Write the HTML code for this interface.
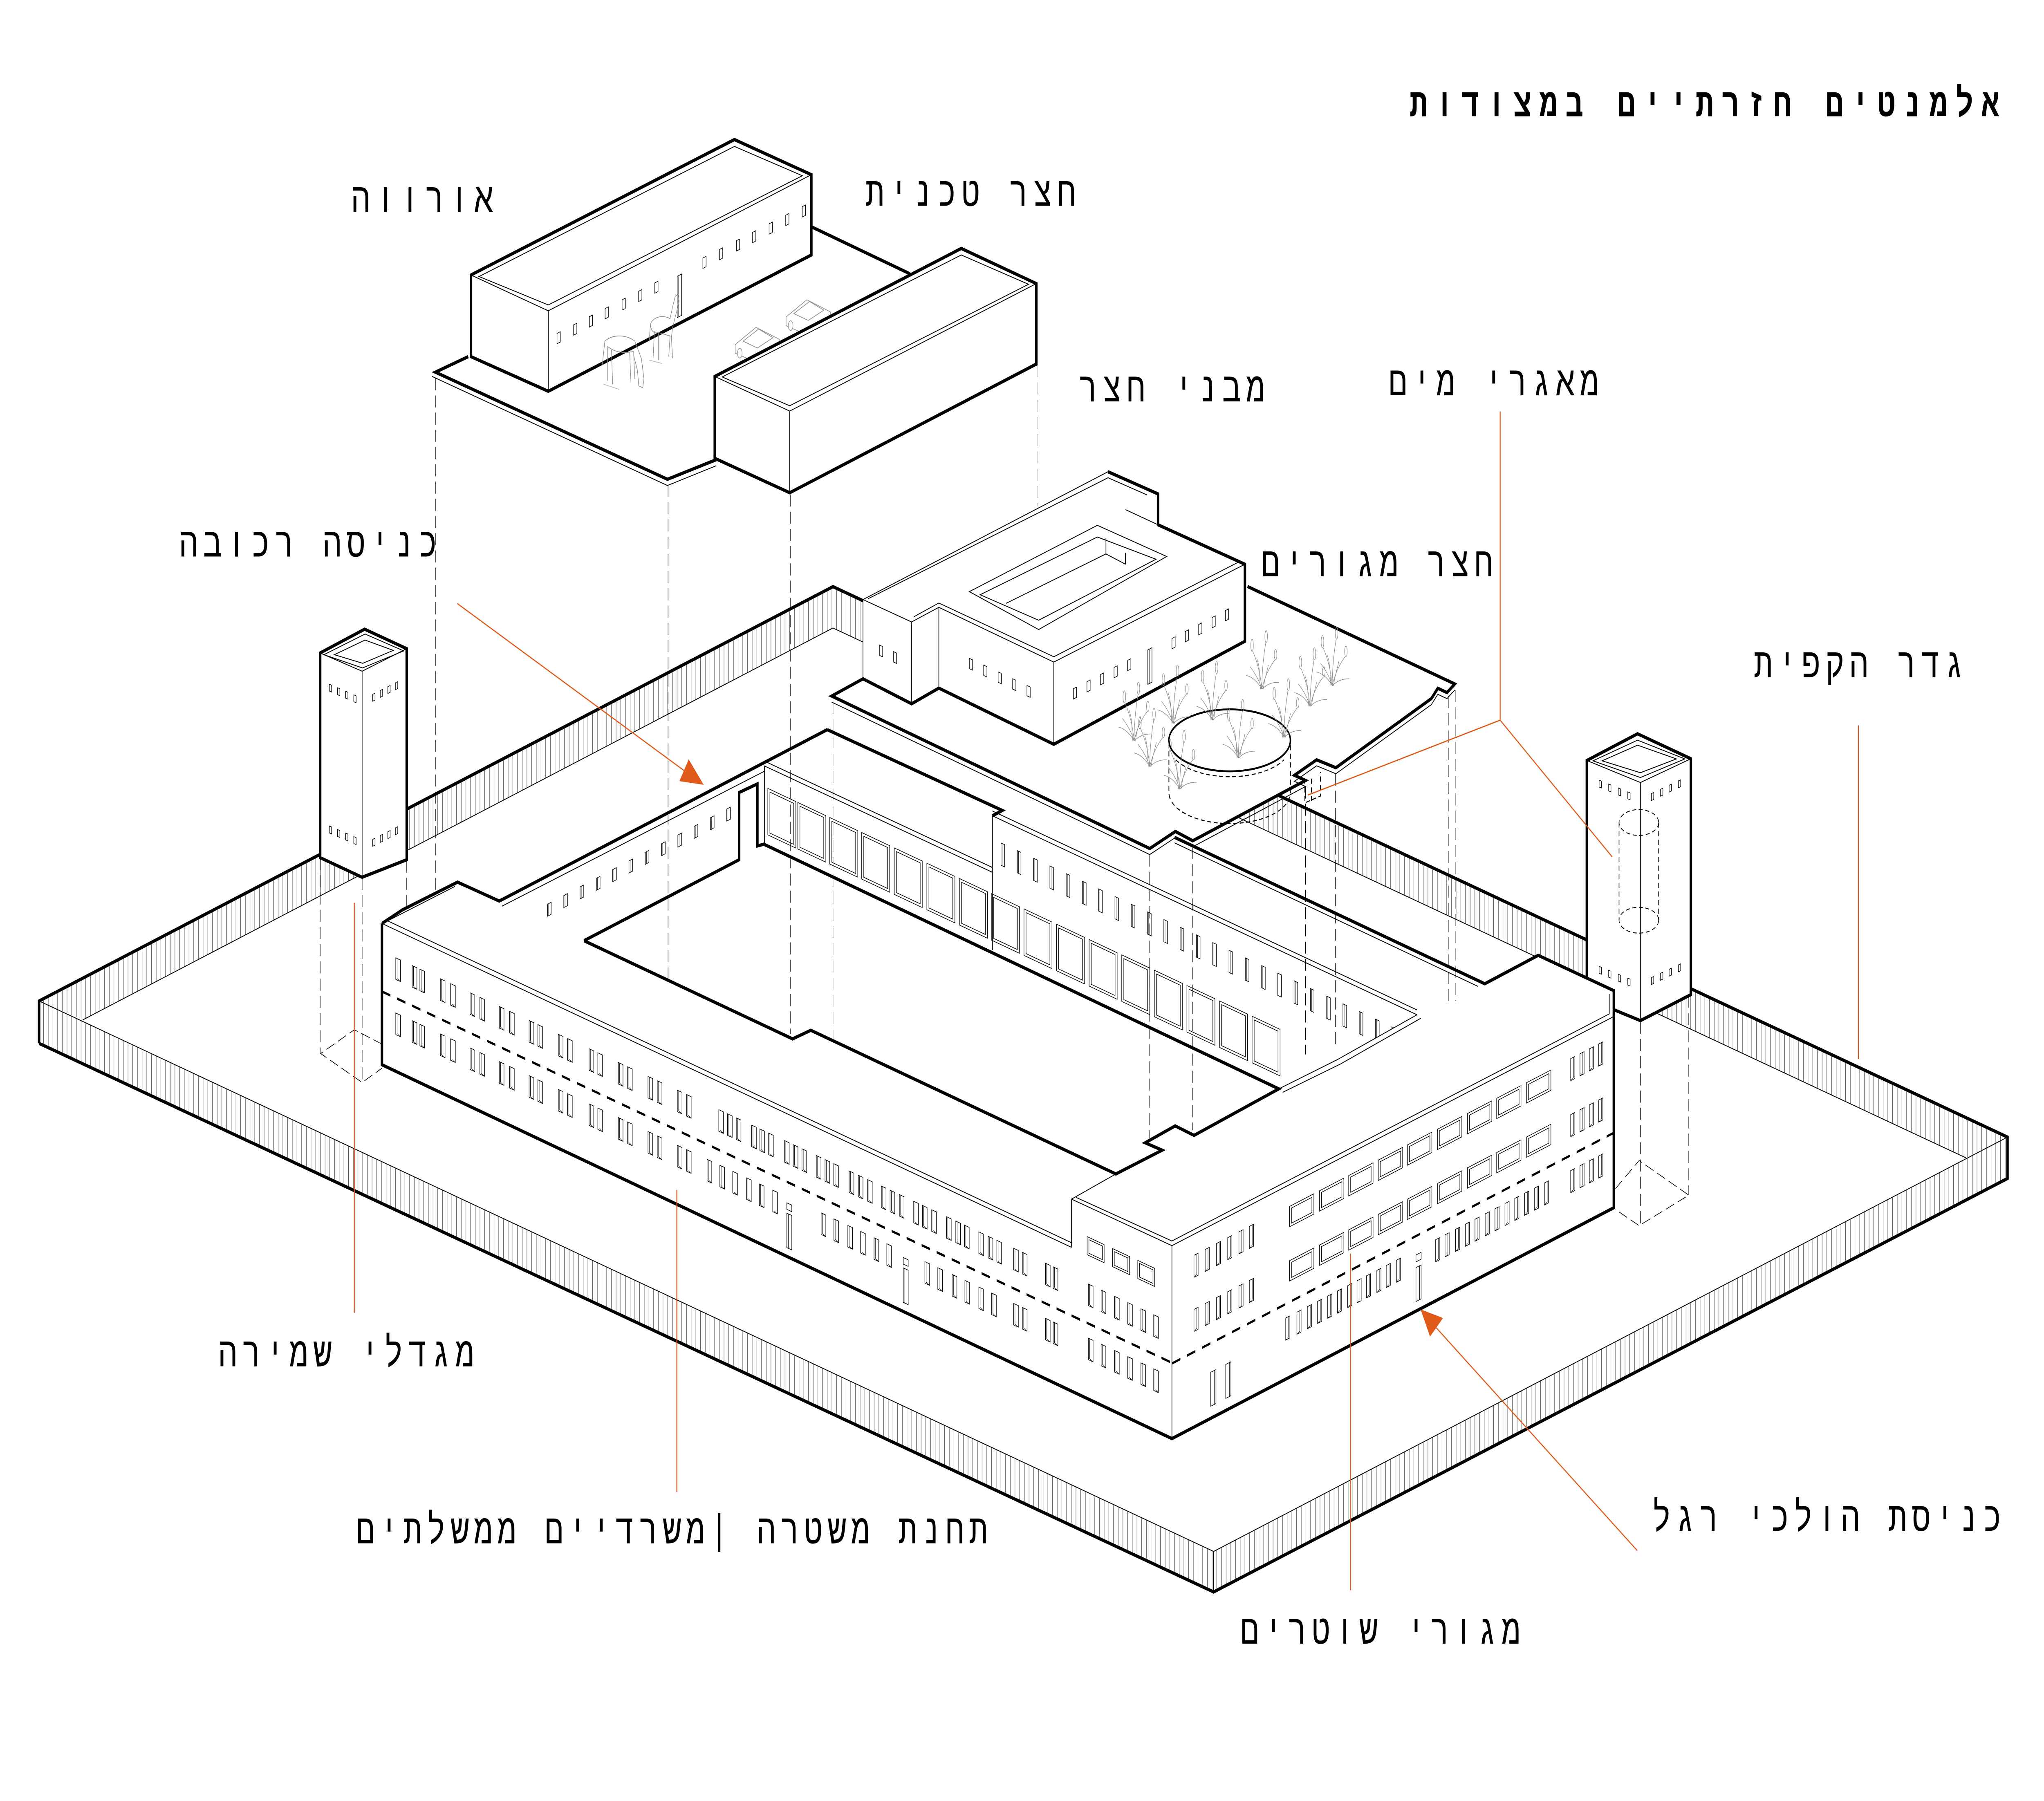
<!DOCTYPE html>
<html><head><meta charset="utf-8"><title>אלמנטים חזרתיים במצודות</title>
<style>
html,body{margin:0;padding:0;background:#fff;width:100%;height:100%;overflow:hidden}
svg{display:block;width:100vw;height:100vh}
.lb{font-family:"Liberation Mono","DejaVu Sans Mono",monospace;font-size:24px;fill:#000}
.tt{font-family:"DejaVu Sans Mono","Liberation Mono",monospace;font-size:23px;font-weight:bold;fill:#000}
.k{fill:none;stroke:#000;stroke-width:1.9;stroke-linejoin:miter}
.t{fill:none;stroke:#000;stroke-width:0.5}
.f{fill:#fff;stroke:none}
.d{fill:none;stroke:#000;stroke-width:0.4;stroke-dasharray:7 3}
.o{fill:none;stroke:#E05A1A;stroke-width:0.7}
.ws rect{fill:#fff;stroke:#000;stroke-width:0.4}
.ws line,.ws polyline{fill:none;stroke:#000;stroke-width:0.3}
</style></head><body>
<svg xmlns="http://www.w3.org/2000/svg" xmlns:xlink="http://www.w3.org/1999/xlink" viewBox="0 0 1568 1045.34" preserveAspectRatio="none">
<defs>
<pattern id="hatch" width="3.6" height="50" patternUnits="userSpaceOnUse"><line x1="1" y1="0" x2="1" y2="50" stroke="#222" stroke-width="0.28"/></pattern>
<g id="w" class="ws"><rect width="3.6" height="12.5"/><polyline points="1,0 1,11.6 3.6,12.5"/></g>
<g id="wr" class="ws"><rect width="3.2" height="12.8"/><polyline points="2.2,0 2.2,11.8 0,12.8"/></g>
<g id="tl" class="ws"><rect width="4" height="19.7"/><line x1="2.8" y1="0" x2="2.8" y2="19.7"/></g>
<g id="bx" class="ws"><rect width="18.7" height="11.8"/><rect x="1.5" y="1.5" width="15.7" height="8.8" style="fill:none"/></g>
<g id="bx2" class="ws"><rect width="13" height="10.5"/><rect x="1.3" y="1.3" width="10.4" height="7.9" style="fill:none"/></g>
<g id="gw" class="ws"><rect width="21.5" height="27"/><rect x="1.6" y="1.6" width="18.3" height="23.8" style="fill:none"/></g>
<g id="sw" class="ws"><rect width="2.8" height="12.9"/><line x1="0.9" y1="0" x2="0.9" y2="12.9"/></g>
<g id="lw" class="ws"><rect width="2.8" height="7"/><line x1="0.9" y1="0" x2="0.9" y2="7"/></g>
<g id="tw" class="ws"><rect width="1.8" height="4"/></g>
<g id="stw" class="ws"><rect width="2.5" height="6"/></g>
<g id="dr" class="ws"><rect width="3.8" height="20"/><line x1="1.2" y1="0" x2="1.2" y2="20"/></g>
<g id="reed" fill="none" stroke="#8c8c8c" stroke-width="0.35">
<path d="M0 0 C-1 -8 -3 -15 -7 -22"/><path d="M0 0 C0 -9 1 -18 3 -27"/><path d="M0 0 C2 -7 6 -13 10 -17"/>
<path d="M0 0 C-3 -4 -7 -7 -12 -8"/><path d="M0 0 C4 -3 8 -4 13 -4"/><path d="M-1 0 C-2 -6 -1 -12 -4 -18"/>
<path d="M1 0 C2 -6 4 -10 5 -14"/><path d="M0 0 C-2 -5 -5 -9 -9 -13"/>
<ellipse cx="-7.5" cy="-25.5" rx="1" ry="3.5"/><ellipse cx="3.3" cy="-30.5" rx="1" ry="3.5"/><ellipse cx="10.5" cy="-20" rx="1" ry="3"/>
</g>
</defs>

<!-- FENCE -->
<polygon points="30,581 639,340.5 639,364.5 63.4,592" fill="url(#hatch)"/>
<polygon points="639,340.5 1540,660 1508,672 639,364.5" fill="url(#hatch)"/>
<polygon points="30,581 931,900.5 931,924 30,605.6" fill="url(#hatch)"/>
<polygon points="931,900.5 1540,660 1540,684 931,924" fill="url(#hatch)"/>
<polyline class="t" points="30,581 931,900.5 1540,660"/>
<polyline class="t" points="63.4,592 639,364.5 1508,672"/>
<line class="t" x1="931" y1="900.5" x2="931" y2="924"/>
<polyline class="k" points="30,605.6 30,581 639,340.5 1540,660 1540,684 931,924 30,605.6"/>

<!-- LEFT TOWER -->
<polygon class="f" points="245.6,379 279.7,365.2 312,376.5 312,499 277.8,509.2 245.6,497.8"/>
<polygon class="t" points="248.5,380 280.1,368 309.7,377.8 278.1,387.7"/>
<polygon class="t" points="256.5,380 280,371.5 301.7,377.5 278.3,385"/>
<polyline class="t" points="245.6,379 277.8,389.6 312,376.5"/>
<line class="t" x1="277.8" y1="389.6" x2="277.8" y2="509.2"/>
<polygon class="k" points="245.6,379 279.7,365.2 312,376.5 312,499 277.8,509.2 245.6,497.8"/>
<g transform="matrix(1 0.329 0 1 0 0)">
<use href="#tw" x="252.6" y="314"/><use href="#tw" x="258.9" y="314"/><use href="#tw" x="265.1" y="314"/><use href="#tw" x="271.4" y="314"/>
<use href="#tw" x="252.6" y="396.3"/><use href="#tw" x="258.9" y="396.3"/><use href="#tw" x="265.1" y="396.3"/><use href="#tw" x="271.4" y="396.3"/>
</g>
<g transform="matrix(1 -0.383 0 1 0 0)">
<use href="#tw" x="285.9" y="512.5"/><use href="#tw" x="291.7" y="512.5"/><use href="#tw" x="297.5" y="512.5"/><use href="#tw" x="303.3" y="512.5"/>
<use href="#tw" x="285.9" y="596.7"/><use href="#tw" x="291.7" y="596.7"/><use href="#tw" x="297.5" y="596.7"/><use href="#tw" x="303.3" y="596.7"/>
</g>

<!-- RIGHT TOWER -->
<polygon class="f" points="1217.3,441.4 1256.2,425.9 1297.1,440.4 1297.1,577.3 1258.4,592.4 1217.3,579.6"/>
<polygon class="t" points="1222,441.6 1256.2,429.6 1292.5,440.5 1258.4,451.3"/>
<polygon class="t" points="1229,441.6 1256.2,432.5 1286,440.5 1258.4,448.5"/>
<polyline class="t" points="1217.3,441.4 1258.4,454.2 1297.1,440.4"/>
<line class="t" x1="1258.4" y1="454.2" x2="1258.4" y2="592.4"/>
<polygon class="k" points="1217.3,441.4 1256.2,425.9 1297.1,440.4 1297.1,577.3 1258.4,592.4 1217.3,579.6"/>
<g transform="matrix(1 0.311 0 1 0 0)">
<use href="#tw" x="1226.7" y="71.3"/><use href="#tw" x="1234" y="71.3"/><use href="#tw" x="1241.4" y="71.3"/><use href="#tw" x="1248.7" y="71.3"/>
<use href="#tw" x="1226.7" y="179.4"/><use href="#tw" x="1234" y="179.4"/><use href="#tw" x="1241.4" y="179.4"/><use href="#tw" x="1248.7" y="179.4"/>
</g>
<g transform="matrix(1 -0.357 0 1 0 0)">
<use href="#tw" x="1266.8" y="912.9"/><use href="#tw" x="1273.8" y="912.9"/><use href="#tw" x="1280.4" y="912.9"/><use href="#tw" x="1287.5" y="912.9"/>
<use href="#tw" x="1266.8" y="1019.7"/><use href="#tw" x="1273.8" y="1019.7"/><use href="#tw" x="1280.4" y="1019.7"/><use href="#tw" x="1287.5" y="1019.7"/>
</g>
<g fill="none" stroke="#000" stroke-width="0.5" stroke-dasharray="3 2">
<ellipse cx="1257.2" cy="477.4" rx="15.2" ry="7.5"/>
<ellipse cx="1257.2" cy="534.1" rx="15.2" ry="7.5"/>
<line x1="1242" y1="477.4" x2="1242" y2="534.1"/>
<line x1="1272.4" y1="477.4" x2="1272.4" y2="534.1"/>
</g>

<!-- MAIN BUILDING: back parts -->
<polygon class="f" points="761.3,473.5 810.4,453.8 1139,571 1087,589"/>
<polygon class="f" points="761.3,473.5 1087,589 981,632 761.3,551.4"/>
<polygon class="f" points="586.5,444.6 634.6,423.5 768.9,470.4 761.3,473.5 761.3,506.3"/>
<polygon class="f" points="586.5,444.6 761.3,506.3 761.3,551.4 586,490"/>
<polygon class="f" points="383,523 586.5,444.6 586,490 581,491 581,455 567,460 567,499 448,546"/>
<polygon class="f" points="448,546 586,490 981,632 856,681.4 622,598 608,603"/>
<g transform="matrix(1 0.356 0 1 0 0)">
<use href="#gw" x="589" y="247.9"/><use href="#gw" x="612" y="247.9"/><use href="#gw" x="636.5" y="247.9"/><use href="#gw" x="661" y="247.9"/>
<use href="#gw" x="686" y="247.9"/><use href="#gw" x="711" y="247.9"/><use href="#gw" x="736" y="247.9"/><use href="#gw" x="760.5" y="247.9"/>
<use href="#gw" x="785.5" y="247.9"/><use href="#gw" x="810.5" y="247.9"/><use href="#gw" x="835.5" y="247.9"/><use href="#gw" x="860.5" y="247.9"/>
<use href="#gw" x="885.5" y="247.9"/><use href="#gw" x="910.5" y="247.9"/><use href="#gw" x="935.5" y="247.9"/><use href="#gw" x="960.5" y="247.9"/>
<use href="#sw" x="767.9" y="215.9"/><use href="#sw" x="780.4" y="215.9"/><use href="#sw" x="792.9" y="215.9"/><use href="#sw" x="805.4" y="215.9"/>
<use href="#sw" x="817.9" y="215.9"/><use href="#sw" x="830.4" y="215.9"/><use href="#sw" x="842.8" y="215.9"/><use href="#sw" x="855.3" y="215.9"/>
<use href="#sw" x="867.8" y="215.9"/><use href="#sw" x="880.3" y="215.9"/><use href="#sw" x="892.8" y="215.9"/><use href="#sw" x="905.3" y="215.9"/>
<use href="#sw" x="917.8" y="215.9"/><use href="#sw" x="930.3" y="215.9"/><use href="#sw" x="942.8" y="215.9"/><use href="#sw" x="955.3" y="215.9"/>
<use href="#sw" x="967.8" y="215.9"/><use href="#sw" x="980.2" y="215.9"/><use href="#sw" x="992.7" y="215.9"/><use href="#sw" x="1005.2" y="215.9"/>
<use href="#sw" x="1017.7" y="215.9"/><use href="#sw" x="1030.2" y="215.9"/><use href="#sw" x="1042.7" y="215.9"/><use href="#sw" x="1055.2" y="215.9"/>
<use href="#sw" x="1067.7" y="215.9"/>
</g>
<g transform="matrix(1 -0.4016 0 1 0 0)">
<use href="#lw" x="420" y="693.5"/><use href="#lw" x="432.5" y="693.5"/><use href="#lw" x="445" y="693.5"/><use href="#lw" x="457.5" y="693.5"/>
<use href="#lw" x="470" y="693.5"/><use href="#lw" x="482.5" y="693.5"/><use href="#lw" x="495" y="693.5"/><use href="#lw" x="507.5" y="693.5"/>
<use href="#lw" x="520" y="693.5"/><use href="#lw" x="532.5" y="693.5"/><use href="#lw" x="545" y="693.5"/><use href="#lw" x="557.5" y="693.5"/>
</g>

<!-- MAIN BUILDING: front parts -->
<polygon class="f" points="293,536 309,528 351,512 383,523 448,546 608,603 622,598 856,681.4 822,696 822,724"/>
<polygon class="f" points="293,536 822,724 822,696 899,723 899,835 293,618"/>
<polygon class="f" points="822,696 899,723 1238,590 1238,575 1180,554.5 1139,571 1087,589 1026,615 981,632 916,659 901.5,653.5 878.5,663.3 891.5,667.6 856,681.4"/>
<polygon class="f" points="899,723 1238,590 1238,701 899,835"/>

<!-- lines -->
<polyline class="t" points="586.5,490 586.5,444.6 761.3,506.3"/>
<line class="t" x1="586.5" y1="441.8" x2="761.3" y2="503.5"/>
<line class="t" x1="761.3" y1="473.5" x2="761.3" y2="551.4"/>
<line class="t" x1="761.3" y1="473.5" x2="1087" y2="589"/>
<line class="t" x1="761.3" y1="470.7" x2="1087" y2="586.2"/>
<line class="t" x1="901" y1="489.2" x2="1134" y2="572.6"/>
<polyline class="t" points="1087,589 1026,615 981,632"/>
<polyline class="t" points="1090,591 1028.5,617.5 984,634"/>
<line class="t" x1="385" y1="526" x2="586.5" y2="447.6"/>
<polyline class="t" points="296,534 822,721.3"/>
<polyline class="t" points="296,535 349,514.5"/>
<polyline class="t" points="293,536 822,724"/>
<polyline class="t" points="822,724 822,696 899,723 1238,590"/>
<polyline class="t" points="822,696 856,681.4"/>
<polyline class="t" points="825.5,695 899,720.3 1234.5,588.5 1234.5,577"/>
<line class="t" x1="899" y1="723" x2="899" y2="835"/>
<polyline class="k" points="634.6,423.5 768.9,470.4 761.3,473.5"/>
<polyline class="k" points="901,486 1139,571 1180,554.5 1238,575 1238,590"/>
<polyline class="k" points="293,536 309,528 351,512 383,523 634.6,423.5"/>
<polyline class="k" points="448,546 567,499 567,460 581,455 581,491 586,490 981,632 916,659 901.5,653.5 878.5,663.3 891.5,667.6 856,681.4 622,598 608,603 448,546"/>
<polyline class="k" points="293,536 293,618 899,835 1238,701 1238,590"/>

<!-- front facade windows -->
<g transform="matrix(1 0.3556 0 1 0 0)">
<g id="r1">
<use href="#w" x="303.6" y="448"/><use href="#w" x="316.2" y="448"/><use href="#w" x="322.1" y="448"/><use href="#w" x="337.8" y="448"/><use href="#w" x="345.7" y="448"/>
<use href="#w" x="360.6" y="448"/><use href="#w" x="368.1" y="448"/><use href="#w" x="383" y="448"/><use href="#w" x="390.9" y="448"/><use href="#w" x="405.9" y="448"/>
<use href="#w" x="412.6" y="448"/><use href="#w" x="428.3" y="448"/><use href="#w" x="435.4" y="448"/><use href="#w" x="451.9" y="448"/><use href="#w" x="458.6" y="448"/>
<use href="#w" x="474.3" y="448"/><use href="#w" x="481.4" y="448"/><use href="#w" x="497.1" y="448"/><use href="#w" x="504.2" y="448"/><use href="#w" x="519.6" y="448"/>
<use href="#w" x="526.6" y="448"/>
</g>
<use href="#r1" y="32"/>
<use href="#w" x="551.4" y="448"/><use href="#w" x="558.1" y="448"/><use href="#w" x="564.8" y="448"/><use href="#w" x="576.6" y="448"/><use href="#w" x="582.9" y="448"/>
<use href="#w" x="589.6" y="448"/><use href="#w" x="601.8" y="448"/><use href="#w" x="608.5" y="448"/><use href="#w" x="615.2" y="448"/><use href="#w" x="626.2" y="448"/>
<use href="#w" x="632.9" y="448"/><use href="#w" x="639.6" y="448"/><use href="#w" x="651.4" y="448"/><use href="#w" x="658.4" y="448"/><use href="#w" x="665.5" y="448"/>
<use href="#w" x="676.1" y="448"/><use href="#w" x="682.8" y="448"/><use href="#w" x="689.9" y="448"/><use href="#w" x="700.9" y="448"/><use href="#w" x="707.6" y="448"/>
<use href="#w" x="714.7" y="448"/><use href="#w" x="726.1" y="448"/><use href="#w" x="733.2" y="448"/><use href="#w" x="739.9" y="448"/><use href="#w" x="750.9" y="448"/>
<use href="#w" x="758" y="448"/><use href="#w" x="764.7" y="448"/><use href="#w" x="777.6" y="448"/><use href="#w" x="784.3" y="448"/><use href="#w" x="802" y="448"/>
<use href="#w" x="807.9" y="448"/>
<use href="#w" x="542.4" y="480"/><use href="#w" x="552.2" y="480"/><use href="#w" x="562.1" y="480"/><use href="#w" x="572.7" y="480"/><use href="#w" x="582.5" y="480"/>
<use href="#w" x="592.8" y="480"/><use href="#w" x="629.9" y="480"/><use href="#w" x="639.7" y="480"/><use href="#w" x="650.4" y="480"/><use href="#w" x="660.2" y="480"/>
<use href="#w" x="670.5" y="480"/><use href="#w" x="680.3" y="480"/><use href="#w" x="709.5" y="480"/><use href="#w" x="719.4" y="480"/><use href="#w" x="730.4" y="480"/>
<use href="#w" x="740.2" y="480"/><use href="#w" x="750.9" y="480"/><use href="#w" x="760.7" y="480"/><use href="#w" x="777.6" y="480"/><use href="#w" x="784.3" y="480"/>
<use href="#w" x="802" y="480"/><use href="#w" x="807.9" y="480"/>
<use href="#dr" x="603.6" y="489.5"/><use href="#dr" x="692.9" y="489.5"/>
<g class="ws"><rect x="603.6" y="483.5" width="3.8" height="3.8"/><rect x="692.9" y="483.5" width="3.8" height="3.8"/></g>
<use href="#bx2" x="834" y="421.2"/><use href="#bx2" x="853.5" y="421.2"/><use href="#bx2" x="872.8" y="421.2"/>
<use href="#w" x="834.9" y="448.4"/><use href="#w" x="844.7" y="448.4"/><use href="#w" x="855" y="448.4"/><use href="#w" x="865.1" y="448.4"/><use href="#w" x="875.2" y="448.4"/><use href="#w" x="885" y="448.4"/>
<use href="#w" x="834.9" y="479.8"/><use href="#w" x="844.7" y="479.8"/><use href="#w" x="855" y="479.8"/><use href="#w" x="865.1" y="479.8"/><use href="#w" x="875.2" y="479.8"/><use href="#w" x="885" y="479.8"/>
<line x1="293" y1="471.3" x2="899" y2="471.3" stroke="#000" stroke-width="1.4" stroke-dasharray="6.5 5"/>
</g>

<!-- right face windows -->
<g transform="matrix(1 -0.395 0 1 0 0)">
<use href="#wr" x="915.9" y="1090.4"/><use href="#wr" x="924.5" y="1090.4"/><use href="#wr" x="933.1" y="1090.4"/><use href="#wr" x="941.8" y="1090.4"/><use href="#wr" x="950.4" y="1090.4"/><use href="#wr" x="958.4" y="1090.4"/>
<use href="#wr" x="915.9" y="1121.8"/><use href="#wr" x="924.5" y="1121.8"/><use href="#wr" x="933.1" y="1121.8"/><use href="#wr" x="941.8" y="1121.8"/><use href="#wr" x="950.4" y="1121.8"/><use href="#wr" x="958.4" y="1121.8"/>
<use href="#tl" x="928.8" y="1163.4"/><use href="#tl" x="940.3" y="1163.4"/>
<g id="bxrow">
<use href="#bx" x="989.2" y="1091"/><use href="#bx" x="1012.2" y="1091"/><use href="#bx" x="1034.6" y="1091"/><use href="#bx" x="1057.3" y="1091"/><use href="#bx" x="1079.7" y="1091"/>
<use href="#bx" x="1102.7" y="1091"/><use href="#bx" x="1125.7" y="1091"/><use href="#bx" x="1148.1" y="1091"/><use href="#bx" x="1171" y="1091"/>
</g>
<use href="#bxrow" y="31.5"/>
<use href="#wr" x="986.3" y="1154.6"/><use href="#wr" x="994.9" y="1154.6"/><use href="#wr" x="1002.9" y="1154.6"/><use href="#wr" x="1010.7" y="1154.6"/><use href="#wr" x="1018.5" y="1154.6"/><use href="#wr" x="1026" y="1154.6"/>
<use href="#wr" x="1033.8" y="1154.6"/><use href="#wr" x="1041" y="1154.6"/><use href="#wr" x="1048.2" y="1154.6"/><use href="#wr" x="1056.2" y="1154.6"/><use href="#wr" x="1063.4" y="1154.6"/><use href="#wr" x="1071.2" y="1154.6"/>
<use href="#wr" x="1101.3" y="1154.6"/><use href="#wr" x="1108.5" y="1154.6"/><use href="#wr" x="1116.6" y="1154.6"/><use href="#wr" x="1124.1" y="1154.6"/><use href="#wr" x="1131.5" y="1154.6"/><use href="#wr" x="1139.3" y="1154.6"/>
<use href="#wr" x="1146.8" y="1154.6"/><use href="#wr" x="1154.5" y="1154.6"/><use href="#wr" x="1162" y="1154.6"/><use href="#wr" x="1169.5" y="1154.6"/><use href="#wr" x="1177" y="1154.6"/><use href="#wr" x="1184.7" y="1154.6"/>
<use href="#tl" x="1086.2" y="1164.8"/>
<g class="ws"><rect x="1086.2" y="1157.5" width="4" height="4"/></g>
<use href="#wr" x="1204.9" y="1090.4"/><use href="#wr" x="1212" y="1090.4"/><use href="#wr" x="1219.2" y="1090.4"/><use href="#wr" x="1226.4" y="1090.4"/>
<use href="#wr" x="1204.9" y="1122.9"/><use href="#wr" x="1212" y="1122.9"/><use href="#wr" x="1219.2" y="1122.9"/><use href="#wr" x="1226.4" y="1122.9"/>
<use href="#wr" x="1204.9" y="1155.4"/><use href="#wr" x="1212" y="1155.4"/><use href="#wr" x="1219.2" y="1155.4"/><use href="#wr" x="1226.4" y="1155.4"/>
<line x1="899" y1="1146.5" x2="1238" y2="1146.5" stroke="#000" stroke-width="1.4" stroke-dasharray="6.5 5"/>
</g>

<!-- RESIDENTIAL YARD (floating) -->
<polygon class="f" points="638,404 882,492.5 901.7,482.6 915,488 1001.5,453 993,450 1010,441 1024.8,445.6 1098,405.5 1103,399.5 1110,402 1116,397 957,340.4 900,330 700,370"/>
<polyline class="t" points="638,407.5 882,496 901.7,486.1 915,491.5 1001.5,456.5 993,453.5 1010,444.5 1024.8,449.1 1098,409 1103,403 1110,405.5 1116,400.5"/>
<polyline class="k" points="662,394 638,404 882,492.5 901.7,482.6 915,488 1001.5,453 993,450 1010,441 1024.8,445.6 1098,405.5 1103,399.5 1110,402 1116,397 957,340.4"/>
<!-- residential building -->
<polygon class="f" points="662,348 699.3,361 699.3,408.5 662,394"/>
<polygon class="f" points="699.3,361 720.2,352.5 720.2,399.4 699.3,408.5"/>
<polygon class="f" points="720.2,352.5 808.4,384.3 808.4,432 720.2,399.4"/>
<polygon class="f" points="808.4,384.3 955,327.5 955,372.2 808.4,432"/>
<polygon class="f" points="662,348 850,273.8 888.4,286.7 863.4,295.8 955,327.5 808.4,384.3 720.2,352.5 699.3,361"/>
<polygon class="f" points="863.4,295.8 888.4,286.7 888.4,304.6"/>
<polyline class="t" points="662,394 662,348 850,273.8"/>
<polyline class="t" points="666,347.5 850,277.3 880,287.3"/>
<polyline class="t" points="662,348 699.3,361 720.2,352.5 808.4,384.3 955,327.5"/>
<polyline class="t" points="701,358 720.2,350 808.4,381.2 950,326.3"/>
<line class="t" x1="699.3" y1="361" x2="699.3" y2="408.5"/>
<line class="t" x1="720.2" y1="352.5" x2="720.2" y2="399.4"/>
<line class="t" x1="808.4" y1="384.3" x2="808.4" y2="432"/>
<line class="t" x1="863.4" y1="295.8" x2="888.4" y2="304.6"/>
<polygon class="t" points="743.6,343.4 841.8,304.9 895,323 796.8,365.4"/>
<polygon class="t" points="751.9,345.2 841.8,311.7 886.8,324.6 796.8,360"/>
<polyline class="t" points="771.8,350.2 848.4,321.5 863.4,327.5"/>
<line class="t" x1="848.4" y1="312.4" x2="848.4" y2="321.5"/>
<line class="t" x1="863.4" y1="320.8" x2="863.4" y2="327.5"/>
<polyline class="k" points="850,273.8 888.4,286.7 888.4,304.6 955,327.5 955,372.2 808.4,432 720.2,399.4 699.3,408.5 662,394"/>
<g transform="matrix(1 0.356 0 1 0 0)">
<use href="#stw" x="743.6" y="117.4"/><use href="#stw" x="754.6" y="117.4"/><use href="#stw" x="765.7" y="117.4"/><use href="#stw" x="776.8" y="117.4"/><use href="#stw" x="787.8" y="117.4"/>
<use href="#stw" x="674.6" y="134.2"/><use href="#stw" x="685.3" y="134.2"/>
</g>
<g transform="matrix(1 -0.395 0 1 0 0)">
<use href="#stw" x="823.4" y="725"/><use href="#stw" x="833.8" y="725"/><use href="#stw" x="844.2" y="725"/><use href="#stw" x="854.6" y="725"/><use href="#stw" x="865" y="725"/>
<use href="#stw" x="899" y="725.7"/><use href="#stw" x="909.3" y="725.7"/><use href="#stw" x="919.5" y="725.7"/><use href="#stw" x="929.8" y="725.7"/><use href="#stw" x="940" y="725.7"/>
<g class="ws"><rect x="880.5" y="725" width="3.2" height="20"/><line x1="881.6" y1="725" x2="881.6" y2="745"/></g>
</g>
<!-- cistern -->
<ellipse cx="943.3" cy="429.7" rx="46.6" ry="18" fill="#fff" stroke="#000" stroke-width="1.1"/>
<g fill="none" stroke="#000" stroke-width="0.6" stroke-dasharray="3 2">
<path d="M896.7 431 L896.7 460 A46.6 18 0 0 0 989.9 460 L989.9 431"/>
<path d="M902 441 A46.6 18 0 0 0 985 441"/>
<path d="M1001 452 L1001 466 L1013 462 L1013 448 M1006 452 L1006 467"/>
</g>
<use href="#reed" x="882" y="445"/><use href="#reed" x="900" y="420"/><use href="#reed" x="930" y="418"/>
<use href="#reed" x="968" y="400"/><use href="#reed" x="1005" y="410"/><use href="#reed" x="1022" y="398"/>
<use href="#reed" x="950" y="440"/><use href="#reed" x="905" y="458"/><use href="#reed" x="985" y="428"/><use href="#reed" x="870" y="430"/>

<!-- UPPER GROUP: stable + technical yard -->
<polygon class="f" points="334,216 512,278.2 549.8,266.7 760,182 698,158.9 622.4,131.6 585,125 400,190"/>
<polyline class="t" points="331.5,218.5 512,281.8 549.5,270.3"/>
<polyline class="k" points="359.2,207 334,216 512,278.2 549.8,266.7"/>
<polyline class="k" points="622.4,131.6 698,158.9"/>
<!-- stable -->
<polygon class="f" points="361.3,159.6 563.4,81 622.4,101.4 622.4,148 420.6,227.1 361.3,207"/>
<polygon class="t" points="367.5,160.5 563.4,85 615.5,102 420.6,177"/>
<polyline class="t" points="361.3,159.6 420.6,180.4 622.4,101.4"/>
<line class="t" x1="420.6" y1="180.4" x2="420.6" y2="227.1"/>
<polygon class="k" points="361.3,159.6 563.4,81 622.4,101.4 622.4,148 420.6,227.1 361.3,207"/>
<g transform="matrix(1 -0.391 0 1 0 0)">
<use href="#stw" x="427.3" y="360.6"/><use href="#stw" x="440" y="360.6"/><use href="#stw" x="452.1" y="360.6"/><use href="#stw" x="464.2" y="360.6"/>
<use href="#stw" x="477.2" y="360.6"/><use href="#stw" x="489.9" y="360.6"/><use href="#stw" x="502.3" y="360.6"/>
<use href="#stw" x="539.2" y="360.6"/><use href="#stw" x="551.9" y="360.6"/><use href="#stw" x="564.9" y="360.6"/><use href="#stw" x="577.3" y="360.6"/>
<use href="#stw" x="590" y="360.6"/><use href="#stw" x="602.7" y="360.6"/><use href="#stw" x="615.4" y="360.6"/>
<g class="ws"><rect x="519.5" y="363.5" width="3.4" height="24"/><line x1="520.6" y1="363.5" x2="520.6" y2="387.5"/></g>
</g>
<!-- horses -->
<g fill="none" stroke="#8c8c8c" stroke-width="0.4">
<path d="M499 188 C502 183 510 183 514 185 L516 178 L518 172 L520 171 L521 175 L519 181 L516 190 L515 196 L516 208 M514 195 L513 207 M502 192 L501 208 M505 193 L505 209 M499 188 L498 198 M499 188 C499 192 502 194 505 193 L514 195"/>
<path d="M464 198 C470 194 480 194 487 198 L492 208 L494 220 L493 225 L490 224 L489 215 L486 206 M466 201 L466 221 M469 203 L470 223 M483 204 L484 222 M486 204 L487 220 M464 198 L462 212 M466 201 C472 205 480 205 486 204"/>
<path d="M463 223 L475 226 M498 209 L508 211" stroke="#bbb"/>
</g>
<!-- cars -->
<g fill="#fff" stroke="#8c8c8c" stroke-width="0.4">
<path d="M564 200 L580 190 L598 197 L598 203 L582 211 L564 205 Z"/><path d="M570 198 L582 191 L593 196 L581 202 Z" fill="none"/>
<ellipse cx="567.5" cy="205" rx="1.8" ry="2.8"/><ellipse cx="585" cy="208" rx="1.8" ry="2.8"/>
<path d="M603 184 L619 174 L637 181 L637 187 L621 195 L603 189 Z"/><path d="M609 182 L621 175 L632 180 L620 186 Z" fill="none"/>
<ellipse cx="606.5" cy="189" rx="1.8" ry="2.8"/><ellipse cx="624" cy="192" rx="1.8" ry="2.8"/>
</g>
<!-- technical building -->
<polygon class="f" points="548.3,218.5 737.4,144.2 795,164.6 795,211.3 605.8,286 548.3,266"/>
<polygon class="t" points="554,218.8 737.4,148 789,165 605.8,235.5"/>
<polyline class="t" points="548.3,218.5 605.8,238.6 795,164.6"/>
<line class="t" x1="605.8" y1="238.6" x2="605.8" y2="286"/>
<polygon class="k" points="548.3,218.5 737.4,144.2 795,164.6 795,211.3 605.8,286 548.3,266"/>

<!-- DASHED PROJECTION LINES -->
<g class="d">
<line x1="334" y1="219.5" x2="334" y2="518"/>
<line x1="512.5" y1="281.5" x2="512.5" y2="568"/>
<line x1="606.5" y1="287" x2="606.5" y2="600"/>
<line x1="795.5" y1="212" x2="795.5" y2="294"/>
<line x1="639" y1="407.5" x2="639" y2="604"/>
<line x1="882" y1="496" x2="882" y2="665"/>
<line x1="915" y1="491.5" x2="915" y2="656"/>
<line x1="1001.5" y1="456.5" x2="1001.5" y2="612"/>
<line x1="1024.5" y1="449" x2="1024.5" y2="606"/>
<line x1="1111" y1="404" x2="1111" y2="584"/>
<line x1="1116.8" y1="400.5" x2="1116.8" y2="581"/>
<line x1="245.6" y1="498" x2="245.6" y2="611.5"/>
<line x1="277.8" y1="509.5" x2="277.8" y2="628.3"/>
<line x1="312" y1="499.5" x2="312" y2="528"/>
<polyline points="293,606 271.8,597.7 246,611.5 277.8,628.3 293,620"/>
<line x1="1258.4" y1="593" x2="1258.4" y2="711.4"/>
<line x1="1295.5" y1="578" x2="1295.5" y2="693.7"/>
<polyline points="1239.2,690 1257.4,673.6 1295.5,693.7 1257.4,711.4 1239.2,702"/>
</g>

<!-- ORANGE LEADERS -->
<g class="o">
<line x1="350.8" y1="350.3" x2="527" y2="448.5"/>
<line x1="1150.8" y1="238.8" x2="1150.8" y2="418"/>
<polyline points="1003.2,461.5 1150.8,418 1236.8,497.4"/>
<line x1="1425.6" y1="421" x2="1425.6" y2="614.7"/>
<line x1="271.8" y1="524" x2="271.8" y2="762"/>
<line x1="519.2" y1="690.6" x2="519.2" y2="866"/>
<line x1="1036" y1="727.6" x2="1036" y2="923"/>
<line x1="1256" y1="900" x2="1101" y2="770"/>
</g>
<polygon fill="#E05A1A" points="539.8,455.5 521.2,453.4 528.3,440.7"/>
<polygon fill="#E05A1A" points="1089.8,760 1097,775.8 1107,765"/>

<!-- TEXT -->
<text class="tt" x="1081.3" y="67.4" textLength="452.5" lengthAdjust="spacing">אלמנטים חזרתיים במצודות</text>
<text class="lb" x="269.5" y="123" textLength="108.9" lengthAdjust="spacing">אורווה</text>
<text class="lb" x="664" y="119.5" textLength="161.4" lengthAdjust="spacing">חצר טכנית</text>
<text class="lb" x="827.5" y="233" textLength="142.9" lengthAdjust="spacing">מבני חצר</text>
<text class="lb" x="1065.2" y="229.4" textLength="161.3" lengthAdjust="spacing">מאגרי מים</text>
<text class="lb" x="137.5" y="323" textLength="197.9" lengthAdjust="spacing">כניסה רכובה</text>
<text class="lb" x="967.5" y="334.4" textLength="177.9" lengthAdjust="spacing">חצר מגורים</text>
<text class="lb" x="1345.5" y="393" textLength="160.9" lengthAdjust="spacing">גדר הקפית</text>
<text class="lb" x="167.5" y="793" textLength="196.3" lengthAdjust="spacing">מגדלי שמירה</text>
<text class="lb" x="273.2" y="895.7" textLength="484.6" lengthAdjust="spacing">תחנת משטרה |משרדיים ממשלתים</text>
<text class="lb" x="951.5" y="954" textLength="214.9" lengthAdjust="spacing">מגורי שוטרים</text>
<text class="lb" x="1267.5" y="888.5" textLength="267.9" lengthAdjust="spacing">כניסת הולכי רגל</text>
</svg>
</body></html>
